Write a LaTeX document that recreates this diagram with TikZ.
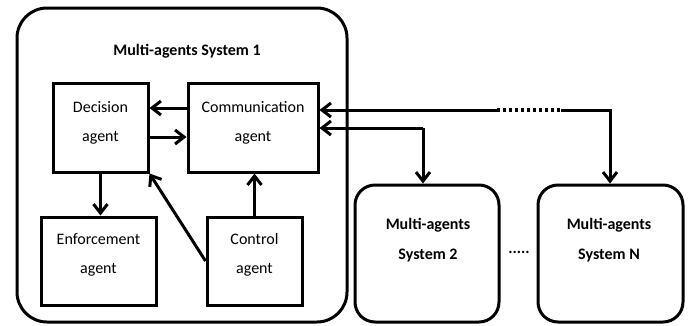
\documentclass[tikz,border=0pt]{standalone}
\usepackage{fontspec}
\setmainfont{Carlito}
\usetikzlibrary{arrows.meta}
\begin{document}
\begin{tikzpicture}[x=1pt,y=-1pt,
  every node/.style={font=\fontsize{16}{29}\selectfont, align=center},
  title/.style={font=\fontsize{16}{30}\selectfont\bfseries, align=center},
  agentbox/.style={draw, line width=3pt, inner sep=0pt},
  sysbox/.style={draw, line width=3pt, rounded corners=20pt, inner sep=0pt},
  link/.style={line width=3pt, -{Straight Barb[length=9pt,width=14pt,line width=3pt]}},
  dotlink/.style={line width=3.2pt, dash pattern=on 3pt off 3pt}
]
\useasboundingbox (0,0) rectangle (691,325);

% outer system
\node[sysbox, rounded corners=30pt, minimum width=330pt, minimum height=314pt] (mas1) at (182,165) {};
\node[title] (t1) at (187,51) {Multi-agents System 1};

% agents
\node[agentbox, minimum width=95pt, minimum height=89pt] (dec) at (100.5,127.5) {};
\node (tdec) at ([yshift=5pt]dec.center) {Decision\\agent};
\node[agentbox, minimum width=130pt, minimum height=89pt] (comm) at (253,127.5) {};
\node (tcomm) at ([yshift=5pt]comm.center) {Communication\\agent};
\node[agentbox, minimum width=115pt, minimum height=88pt] (enf) at (98.5,261) {};
\node (tenf) at ([yshift=6pt]enf.center) {Enforcement\\agent};
\node[agentbox, minimum width=95pt, minimum height=88pt] (ctrl) at (254.5,261) {};
\node (tctrl) at ([yshift=6pt]ctrl.center) {Control\\agent};

% other systems
\node[sysbox, minimum width=144pt, minimum height=137pt] (mas2) at (427,253.5) {};
\node[title] (t2) at (428,240) {Multi-agents\\System 2};
\node[sysbox, minimum width=145pt, minimum height=137pt] (masN) at (610.5,253.5) {};
\node[title] (tN) at (609,240) {Multi-agents\\System N};
\node[title] (gap) at (519,252) {.....};

% internal links
\coordinate (ya) at (0,108);
\coordinate (yb) at (0,137);
\draw[link] (comm.west |- ya) -- (dec.east |- ya);
\draw[link] (dec.east |- yb) -- (comm.west |- yb);
\draw[link] (dec.south) -- (enf.north -| dec.south);
\draw[link] (ctrl.north) -- (comm.south -| ctrl.north);
\draw[link] (ctrl.west) -- (dec.south east);

% links to the other systems
\coordinate (yc) at (0,110);
\coordinate (yd) at (0,128);
\coordinate (da) at (497,110);
\coordinate (db) at (561,110);
\coordinate (dc) at (610,110);
\coordinate (dd) at (423,128);
\draw[link] (da) -- (comm.east |- yc);
\draw[dotlink] (da) -- (db);
\draw[link] (db) -- (dc) -- (masN.north -| dc);
\draw[link] (dd) -- (comm.east |- yd);
\draw[link] (dd) -- (mas2.north -| dd);
\end{tikzpicture}
\end{document}
